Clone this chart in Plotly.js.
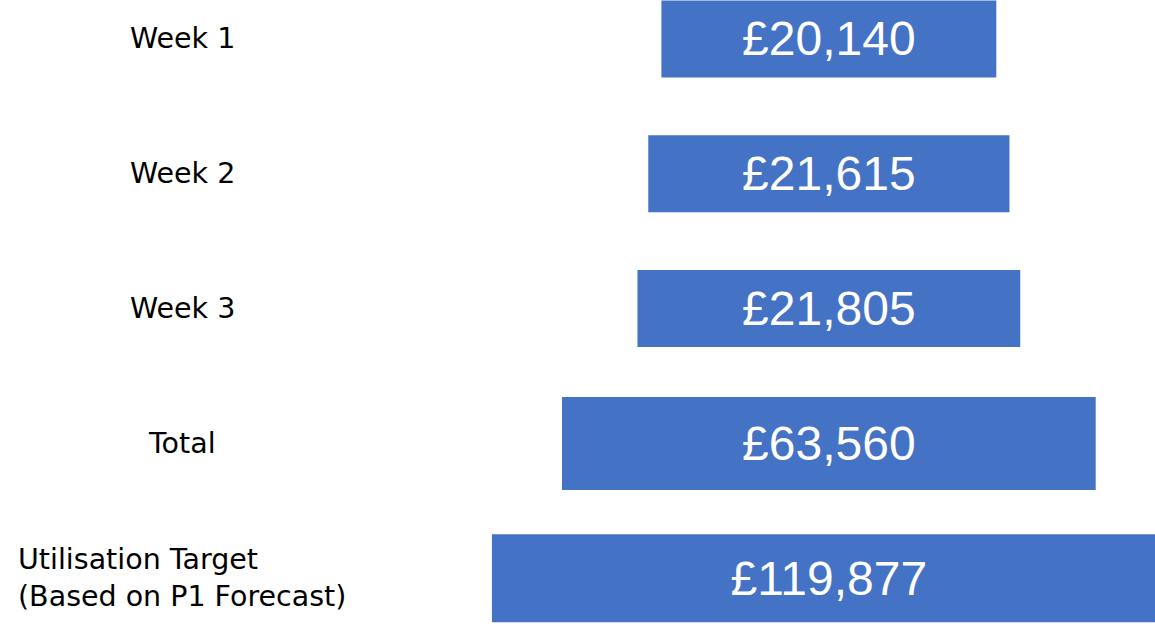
<!DOCTYPE html>
<html>
<head>
<meta charset="utf-8">
<script src="https://cdn.plot.ly/plotly-3.0.1.min.js"></script>
<style>html,body{margin:0;padding:0;background:#fff;}#chart{width:1155px;height:632px;}</style>
</head>
<body>
<div id="chart"></div>
<script>
// Data
var categories = ['Week 1', 'Week 2', 'Week 3', 'Total', 'Utilisation Target<br>(Based on P1 Forecast)'];
var values = [20140, 21615, 21805, 63560, 119877];
// Relative drawn lengths of the funnel blocks (the graphic is not to scale)
var relativeLengths = [49.7, 53.6, 56.8, 79.2, 100];
var thickness = [0.571, 0.571, 0.571, 0.69, 0.653];

var valueLabels = values.map(function (v) { return '£' + v.toLocaleString('en-GB'); });
var bases = relativeLengths.map(function (w) { return -w / 2; });
var idx = categories.map(function (c, i) { return i; });

var trace = {
  type: 'bar',
  orientation: 'h',
  y: idx,
  x: relativeLengths,
  base: bases,
  width: thickness,
  text: valueLabels,
  textposition: 'inside',
  insidetextanchor: 'middle',
  textangle: 0,
  constraintext: 'none',
  textfont: {family: '"Liberation Sans", Arial, sans-serif', size: 48, color: '#ffffff'},
  marker: {color: '#4472C4', line: {width: 0}},
  hoverinfo: 'skip'
};

var annotations = categories.map(function (c, i) {
  return {
    xref: 'paper', yref: 'y', x: 0.158, y: i,
    text: c, showarrow: false, xanchor: 'center', yanchor: 'middle', align: 'left',
    font: {family: '"DejaVu Sans", Verdana, sans-serif', size: 28.5, color: '#000000'}
  };
});

var layout = {
  width: 1155, height: 632,
  margin: {l: 0, r: 0, t: 0, b: 0},
  paper_bgcolor: '#ffffff', plot_bgcolor: '#ffffff',
  showlegend: false,
  xaxis: {range: [-123, 48.4], visible: false, fixedrange: true},
  yaxis: {range: [4.399, -0.289], visible: false, fixedrange: true},
  annotations: annotations
};

Plotly.newPlot('chart', [trace], layout, {staticPlot: true, displayModeBar: false});
</script>
</body>
</html>
